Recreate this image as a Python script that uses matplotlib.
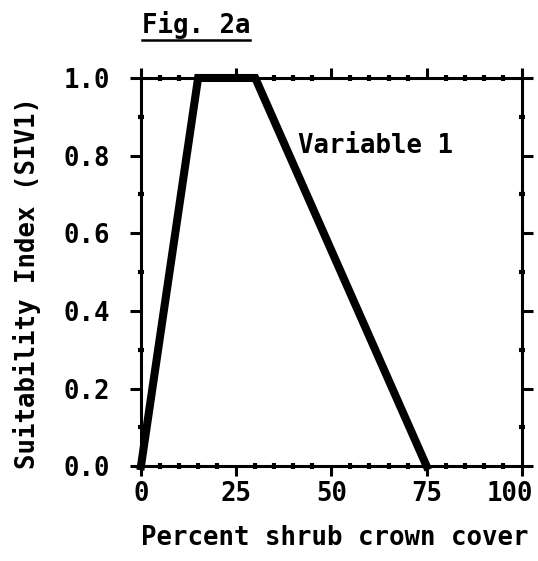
import matplotlib
matplotlib.use("Agg")
import matplotlib.pyplot as plt
import matplotlib.transforms as mtransforms
from matplotlib.ticker import MultipleLocator
from matplotlib.lines import Line2D

# data: suitability curve for variable 1
cover_pct = [0, 15, 30, 75]
suit_index = [0.0, 1.0, 1.0, 0.0]
x_ticks = [0, 25, 50, 75, 100]
y_ticks = [0.0, 0.2, 0.4, 0.6, 0.8, 1.0]

plt.rcParams['font.family'] = ['DejaVu Sans Mono']
plt.rcParams['font.weight'] = 'bold'
plt.rcParams['axes.labelweight'] = 'bold'
FS = 18.5

fig = plt.figure(figsize=(5.38, 5.61), dpi=100)
ax = fig.add_axes([0.262, 0.169, 0.708, 0.692])

ax.plot(cover_pct, suit_index, color='black', lw=5.8, solid_joinstyle='miter',
        clip_on=False, zorder=5)

ax.set_xlim(0, 100)
ax.set_ylim(0, 1)
ax.set_xticks(x_ticks)
ax.set_xticklabels([str(v) for v in x_ticks])
ax.set_yticks(y_ticks)
ax.set_yticklabels([f"{v:.1f}" for v in y_ticks])
ax.xaxis.set_minor_locator(MultipleLocator(5))
ax.yaxis.set_minor_locator(MultipleLocator(0.1))

for sp in ax.spines.values():
    sp.set_linewidth(2.2)

ax.tick_params(axis='x', which='major', direction='out', length=7, width=2.2,
               top=True, labelsize=FS, pad=4)
ax.tick_params(axis='y', which='major', direction='out', length=8, width=2.2,
               right=True, labelsize=FS, pad=14)
ax.tick_params(which='minor', direction='inout', length=4, width=3,
               top=True, right=True)

# last x label pulled left so it stays inside the figure
last = ax.get_xticklabels()[-1]
last.set_transform(last.get_transform() +
                   mtransforms.ScaledTranslation(-12 / 100, 0, fig.dpi_scale_trans))

ax.set_xlabel("Percent shrub crown cover", fontsize=FS, ha='center', va='baseline')
ax.xaxis.set_label_coords(0.51, -0.204)
ax.set_ylabel("Suitability Index (SIV1)", fontsize=FS, ha='center', va='center',
              rotation_mode='default')
ax.yaxis.set_label_coords(-0.30, 0.472)

ax.text(41.2, 0.807, "Variable 1", fontsize=FS, va='baseline', ha='left')

title = fig.text(142 / 538, 1 - 33 / 561, "Fig. 2a", fontsize=FS,
                 va='baseline', ha='left')
fig.canvas.draw()
bb = title.get_window_extent().transformed(fig.transFigure.inverted())
uy = 1 - 40 / 561
fig.add_artist(Line2D([bb.x0, bb.x1], [uy, uy],
                      color='black', lw=1.8, transform=fig.transFigure))

fig.savefig("out.png", dpi=100)
